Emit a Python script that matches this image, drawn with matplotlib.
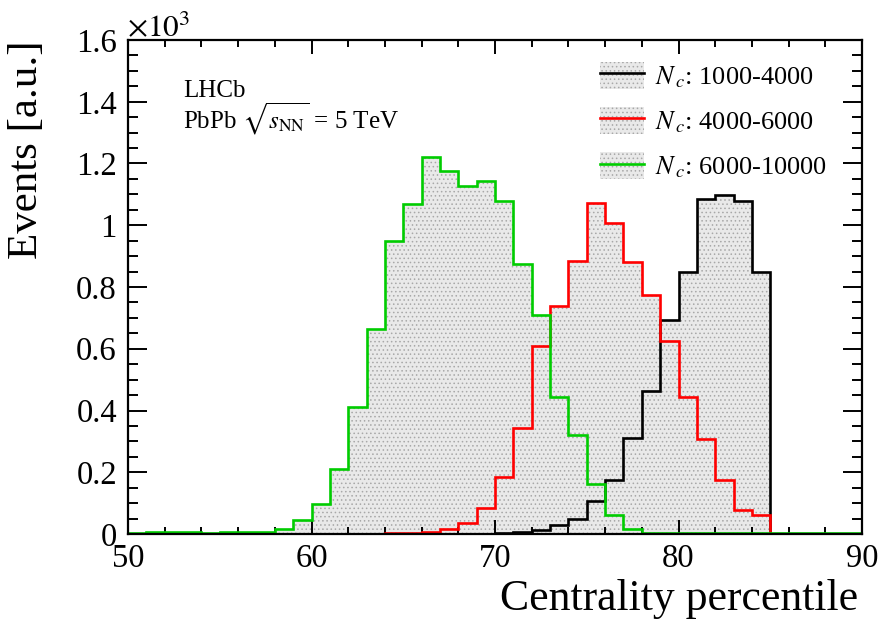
import numpy as np
import matplotlib
matplotlib.use("Agg")
import matplotlib.pyplot as plt
from matplotlib.patches import Patch
from matplotlib.lines import Line2D
from matplotlib.ticker import MultipleLocator, FormatStrFormatter

plt.rcParams['font.family'] = ['Liberation Serif', 'DejaVu Serif']
plt.rcParams['mathtext.fontset'] = 'stix'
plt.rcParams['hatch.linewidth'] = 0.6

# bins de 1% entre 50 y 90
bordes = np.arange(50, 91, 1)

# eventos (x10^3) por bin
nc_1000_4000 = [0, 0, 0, 0, 0, 0, 0, 0, 0, 0,
                0, 0, 0, 0.001, 0.001, 0.001, 0.001, 0.001, 0.001, 0.001,
                0.002, 0.008, 0.012, 0.030, 0.049, 0.108, 0.175, 0.311, 0.464, 0.693,
                0.850, 1.085, 1.098, 1.079, 0.850, 0, 0, 0, 0, 0]
nc_4000_6000 = [0.001, 0.002, 0.002, 0.001, 0.001, 0.001, 0.001, 0.001, 0.001, 0.001,
                0.001, 0.001, 0.001, 0.001, 0.002, 0.004, 0.005, 0.016, 0.037, 0.084,
                0.186, 0.344, 0.610, 0.740, 0.885, 1.072, 1.007, 0.881, 0.774, 0.625,
                0.444, 0.308, 0.175, 0.078, 0.060, 0, 0, 0, 0, 0]
nc_6000_10000 = [0.004, 0.006, 0.006, 0.005, 0.004, 0.005, 0.005, 0.008, 0.016, 0.045,
                 0.096, 0.210, 0.410, 0.665, 0.950, 1.070, 1.220, 1.175, 1.127, 1.144,
                 1.080, 0.875, 0.710, 0.445, 0.320, 0.163, 0.060, 0.015, 0.003, 0.003,
                 0.003, 0.003, 0.003, 0.003, 0.003, 0.003, 0.003, 0.003, 0.003, 0.003]

series = [nc_1000_4000, nc_4000_6000, nc_6000_10000]
colores = ['black', '#ff0000', '#00cc00']
etiquetas = [r'$N_{\,c}$: 1000-4000', r'$N_{\,c}$: 4000-6000', r'$N_{\,c}$: 6000-10000']

relleno = '#e9e9e9'
punteado = '#a8a8a8'

fig = plt.figure(figsize=(8.83, 6.35), dpi=100)
ax = fig.add_axes([128/883, 1 - 534/635, (862 - 128)/883, (534 - 40)/635])

# primero los rellenos, luego las lineas
for vals in series:
    ax.stairs(vals, bordes, fill=True, facecolor=relleno, edgecolor=punteado,
              hatch='....', linewidth=0, zorder=1)
for vals, c in zip(series, colores):
    ax.stairs(vals, bordes, color=c, linewidth=1.9, zorder=2)

ax.set_xlim(50, 90)
ax.set_ylim(0, 1.6)

ax.xaxis.set_major_locator(MultipleLocator(10))
ax.xaxis.set_minor_locator(MultipleLocator(2))
ax.yaxis.set_major_locator(MultipleLocator(0.2))
ax.yaxis.set_minor_locator(MultipleLocator(0.05))
ax.yaxis.set_major_formatter(FormatStrFormatter('%g'))

ax.tick_params(axis='both', which='both', direction='in', top=True, right=True,
               labelsize=23.5, width=1.4, color='black')
ax.tick_params(axis='x', which='major', length=10, pad=7)
ax.tick_params(axis='x', which='minor', length=5)
ax.tick_params(axis='y', which='major', length=14, pad=8)
ax.tick_params(axis='y', which='minor', length=7)
for s in ax.spines.values():
    s.set_linewidth(1.6)

fig.text(858/883, 1 - 610/635, 'Centrality percentile', ha='right', va='baseline',
         fontsize=31.5)
fig.text(27/883, 1 - 40/635, 'Events [a.u.]', rotation=90, ha='center', va='top',
         fontsize=31)
fig.text(127/883, 1 - 36/635, r'$\times10^{3}$', ha='left', va='baseline', fontsize=22.5)

fig.text(183/883, 1 - 97/635, 'LHCb', ha='left', va='baseline', fontsize=18)
fig.text(183/883, 1 - 129/635, r'PbPb $\sqrt{s_{\mathrm{NN}}}$ = 5 TeV', ha='left',
         va='baseline', fontsize=18)

handles = []
for c in colores:
    p = Patch(facecolor=relleno, edgecolor=punteado, hatch='....', linewidth=0)
    l = Line2D([], [], color=c, linewidth=1.9)
    handles.append((p, l))
ax.legend(handles, etiquetas, loc='upper left', frameon=False, fontsize=19,
          bbox_to_anchor=(600/883, 1 - 62/635), bbox_transform=fig.transFigure,
          borderpad=0, borderaxespad=0, handlelength=1.65, handleheight=1.2,
          handletextpad=0.45, labelspacing=0.65)

fig.savefig('out.png', dpi=100)
